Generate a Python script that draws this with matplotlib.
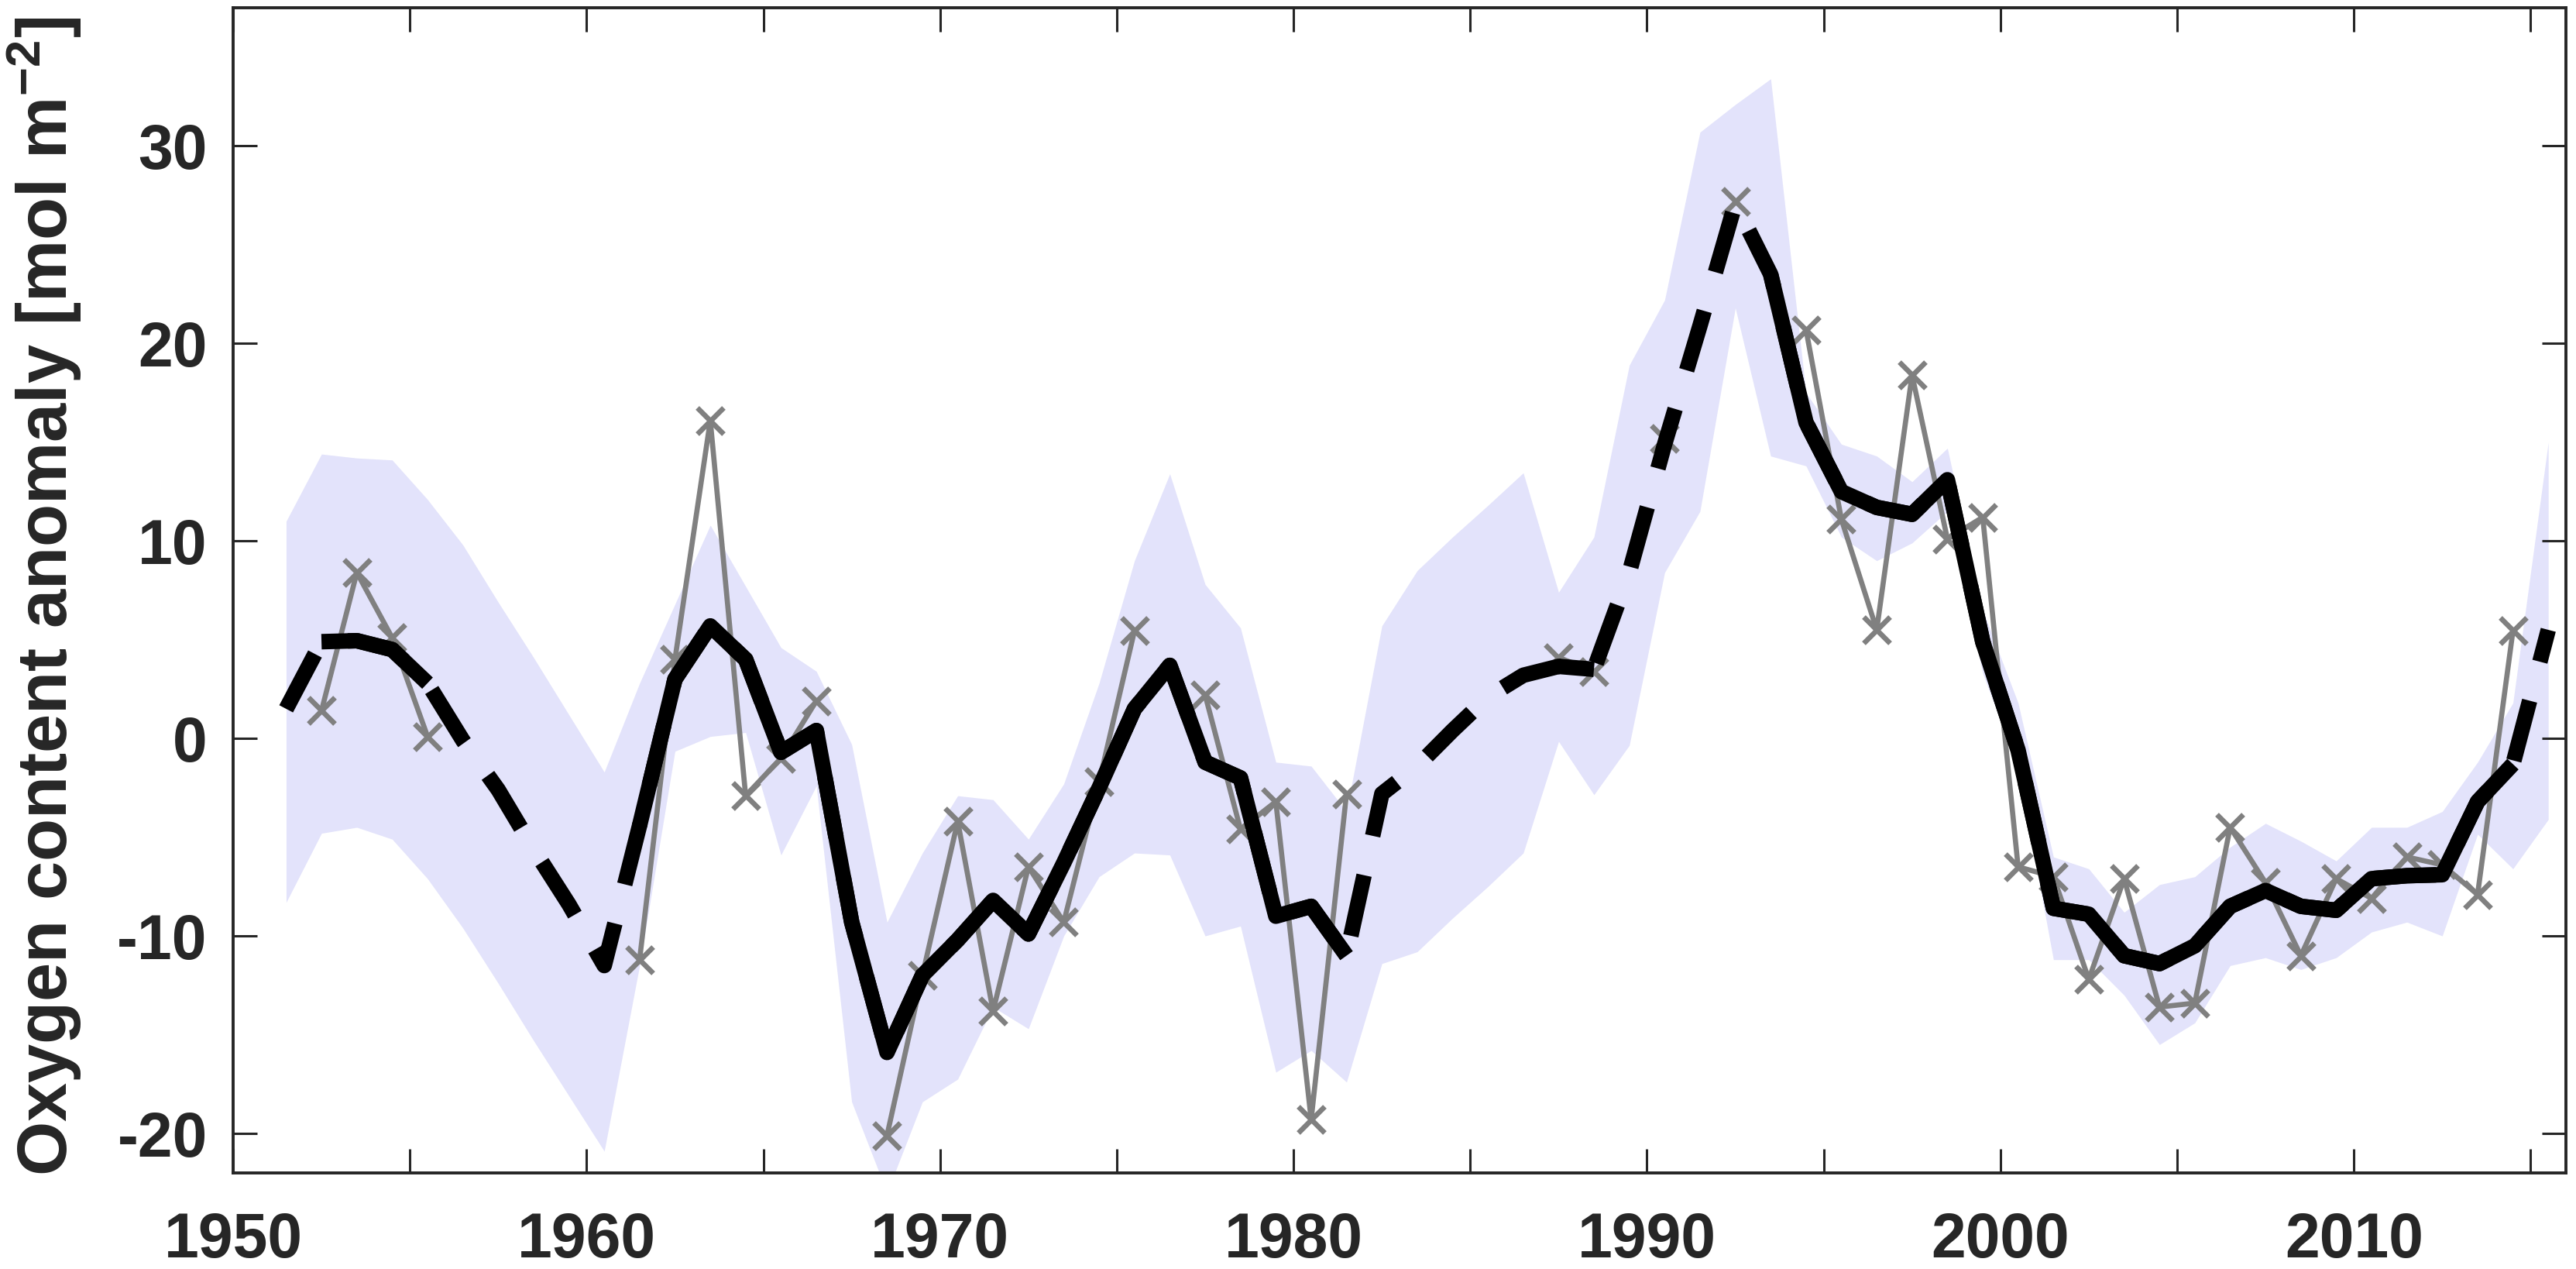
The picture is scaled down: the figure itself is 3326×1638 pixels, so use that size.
import numpy as np
import matplotlib
matplotlib.use("Agg")
import matplotlib.pyplot as plt
from matplotlib.ticker import MultipleLocator

plt.rcParams['font.family'] = ['Liberation Sans', 'DejaVu Sans']
plt.rcParams['font.weight'] = 'bold'
plt.rcParams['mathtext.default'] = 'regular'
plt.rcParams['axes.unicode_minus'] = False

# yearly values, centred on mid-year
years = np.arange(1951.5, 2016.0, 1.0)

# annual estimates (grey crosses), nan = no data
annual = [np.nan, 1.4, 8.4, 5.1, 0.1,
          np.nan, np.nan, np.nan, np.nan, np.nan,
          -11.2, 4.0, 16.1, -2.9, -1.0, 1.9,
          np.nan, -20.1, -12.0, -4.2, -13.8, -6.5, -9.3, -2.2, 5.45,
          np.nan, 2.2, -4.6, -3.2, -19.3, -2.8,
          np.nan, np.nan, np.nan, np.nan, np.nan,
          4.1, 3.4, np.nan, 15.2, np.nan, 27.2, np.nan,
          20.7, 11.1, 5.5, 18.4, 10.1, 11.2, -6.5, -7.0, -12.2,
          -7.1, -13.6, -13.4, -4.5, -7.3, -11.0, -7.1, -8.1, -6.0,
          -6.4, -7.9, 5.45, np.nan]

# smoothed series (thick black)
smooth = [1.5, 4.9, 4.95, 4.5, 2.8,
          -0.1, -2.6, -5.6, -8.4, -11.5,
          -4.4, 3.0, 5.7, 4.0, -0.7, 0.4,
          -9.3, -15.9, -12.0, -10.2, -8.2, -9.9, -6.3, -2.5, 1.5,
          3.7, -1.2, -2.0, -9.0, -8.5, -11.0,
          -2.8, -1.4, 0.4, 2.1, 3.2,
          3.65, 3.5, 8.4, 14.9, 20.9, 27.1, 23.5,
          16.0, 12.5, 11.7, 11.35, 13.1, 4.9, -0.6, -8.6, -8.9,
          -11.0, -11.4, -10.5, -8.5, -7.7, -8.5, -8.7, -7.1, -6.95,
          -6.9, -3.2, -1.3, 5.5]

# uncertainty band
upper = [11.0, 14.4, 14.2, 14.1, 12.1,
         9.8, 6.9, 4.1, 1.2, -1.7,
         2.8, 6.8, 10.8, 7.7, 4.6, 3.4,
         -0.3, -9.3, -5.8, -2.9, -3.1, -5.1, -2.3, 2.8, 9.0,
         13.4, 7.8, 5.6, -1.2, -1.4, -3.7,
         5.7, 8.5, 10.2, 11.8, 13.45,
         7.4, 10.2, 18.9, 22.2, 30.7, 32.1, 33.4,
         17.5, 14.9, 14.3, 13.0, 14.7, 6.5, 1.8, -6.0, -6.6,
         -8.8, -7.4, -7.0, -5.5, -4.3, -5.2, -6.2, -4.5, -4.5,
         -3.7, -1.2, 1.8, 15.0]
lower = [-8.3, -4.8, -4.5, -5.1, -7.1,
         -9.6, -12.4, -15.3, -18.1, -20.9,
         -11.5, -0.65, 0.1, 0.3, -5.9, -2.4,
         -18.4, -23.0, -18.4, -17.25, -13.6, -14.7, -10.0, -7.0, -5.8,
         -5.9, -10.0, -9.5, -16.9, -15.8, -17.4,
         -11.4, -10.8, -9.1, -7.5, -5.8,
         -0.15, -2.85, -0.35, 8.4, 11.5, 21.8, 14.3,
         13.8, 10.2, 9.0, 9.9, 11.5, 3.3, -1.5, -11.2, -11.2,
         -13.0, -15.5, -14.4, -11.5, -11.1, -11.7, -11.1, -9.8, -9.3,
         -10.0, -4.85, -6.6, -4.1]

# stretches where the smoothed line is drawn solid
solid_spans = [(1952.5, 1955.5), (1961.5, 1981.5), (1987.5, 1988.5), (1993.5, 2014.5)]

smooth = np.array(smooth)
solid = np.full(len(years), np.nan)
for a, b in solid_spans:
    m = (years >= a) & (years <= b)
    solid[m] = smooth[m]

fig = plt.figure(figsize=(16.63, 8.19), dpi=200)
ax = fig.add_axes([0.0905, 0.0757, 0.9056, 0.9182])

ax.fill_between(years, lower, upper, color='#e3e3fb', linewidth=0, zorder=1)
ax.plot(years, annual, color='#808080', linewidth=2.4, marker='x',
        markersize=12, markeredgewidth=2.4, zorder=2)
ax.plot(years, smooth, color='black', linewidth=7.2, linestyle=(0, (4.0, 2.6)),
        dash_capstyle='butt', zorder=3)
ax.plot(years, solid, color='black', linewidth=7.2, solid_joinstyle='round',
        solid_capstyle='butt', zorder=4)

ax.set_xlim(1950, 2016)
ax.set_ylim(-22, 37)
ax.xaxis.set_major_locator(MultipleLocator(10))
ax.xaxis.set_minor_locator(MultipleLocator(5))
ax.yaxis.set_major_locator(MultipleLocator(10))
ax.tick_params(which='both', direction='in', length=11, width=1.1,
               top=True, right=True, colors='#262626')
ax.tick_params(axis='x', which='major', labelsize=29, pad=18)
ax.tick_params(axis='y', which='major', labelsize=29, pad=12)
for s in ax.spines.values():
    s.set_linewidth(1.4)
    s.set_color('#262626')

ax.set_ylabel('Oxygen content anomaly [mol m$^{-2}$]', fontsize=32.5,
              fontweight='bold', color='#262626')
ax.yaxis.set_label_coords(-0.064, 0.495)

fig.savefig('out.png', dpi=200)
